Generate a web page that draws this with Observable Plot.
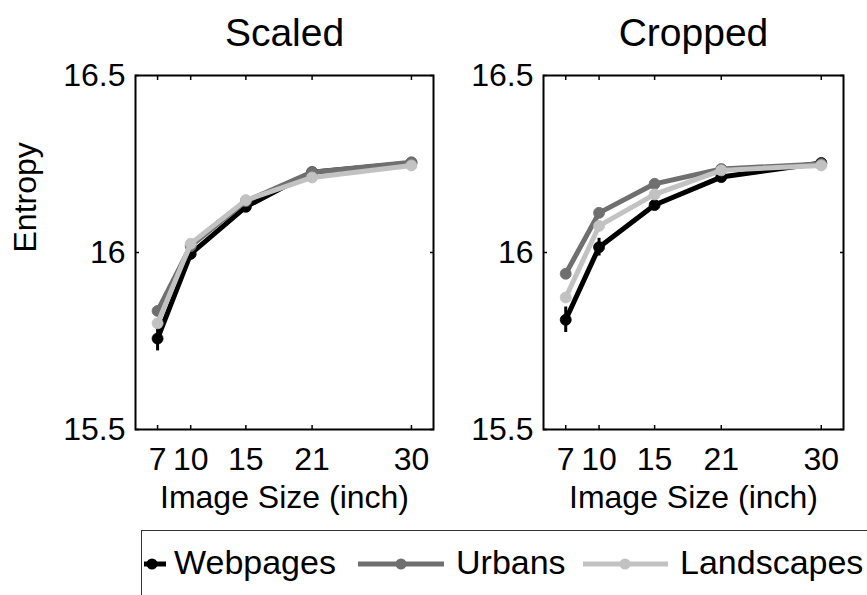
<!DOCTYPE html>
<html><head><meta charset="utf-8">
<script src="https://cdn.jsdelivr.net/npm/d3@7"></script>
<script src="https://cdn.jsdelivr.net/npm/@observablehq/plot@0.6"></script>
<style>
html,body{margin:0;padding:0;background:#fff;}
#root{position:relative;width:867px;height:595px;overflow:hidden;font-family:"Liberation Sans",Arial,Helvetica,sans-serif;color:#000;}
.panel{position:absolute;top:0;}
#legend{position:absolute;left:141px;top:530px;width:800px;height:100px;border:1.5px solid #333;box-sizing:border-box;overflow:hidden;}
.lg-item{position:absolute;top:0;height:70px;}
.lg-text{position:absolute;font-size:34px;line-height:34px;white-space:nowrap;}
</style></head><body><div id="root"></div>
<script>
const sizes = [7, 10, 15, 21, 30];
const seriesNames = ["Webpages", "Urbans", "Landscapes"];
const seriesColors = ["#000000", "#6f6f6f", "#c2c2c2"];
const panelTitles = ["Scaled", "Cropped"];
const yTicks = [15.5, 16, 16.5];
const xLabel = "Image Size (inch)";
const yLabel = "Entropy";

const scaledWebpages   = [15.757, 15.996, 16.129, 16.227, 16.253];
const scaledUrbans     = [15.835, 16.018, 16.145, 16.227, 16.255];
const scaledLandscapes = [15.800, 16.025, 16.148, 16.212, 16.246];
const croppedWebpages   = [15.810, 16.015, 16.134, 16.213, 16.253];
const croppedUrbans     = [15.940, 16.112, 16.194, 16.236, 16.250];
const croppedLandscapes = [15.873, 16.075, 16.164, 16.232, 16.246];

const scaledErrWebpages   = [0.035, 0.012, 0.008, 0.006, 0.005];
const scaledErrUrbans     = [0.012, 0.008, 0.006, 0.005, 0.004];
const scaledErrLandscapes = [0.012, 0.008, 0.006, 0.005, 0.004];
const croppedErrWebpages   = [0.036, 0.025, 0.010, 0.007, 0.005];
const croppedErrUrbans     = [0.012, 0.008, 0.006, 0.005, 0.004];
const croppedErrLandscapes = [0.014, 0.010, 0.006, 0.005, 0.004];

const FONT = "Liberation Sans, Arial, Helvetica, sans-serif";

function makePanel(title, values, errs, geom, showYLabel) {
  const marks = [
    Plot.frame({stroke: "#000", strokeWidth: 2}),
    Plot.axisX(sizes, {anchor: "bottom", tickSize: -4, fill: "none", strokeWidth: 1.5, label: null}),
    Plot.axisX(sizes, {anchor: "top", tickSize: -4, fill: "none", strokeWidth: 1.5, label: null}),
    Plot.axisY(yTicks, {anchor: "left", tickSize: -4, fill: "none", strokeWidth: 1.5, label: null}),
    Plot.axisY(yTicks, {anchor: "right", tickSize: -4, fill: "none", strokeWidth: 1.5, label: null}),
    Plot.axisX(sizes, {anchor: "bottom", tickSize: 0, tickPadding: 18, fontSize: 32, label: null}),
    Plot.axisY(yTicks, {anchor: "left", tickSize: 0, tickPadding: 10, fontSize: 32, tickFormat: d => String(d), label: null})
  ];
  seriesNames.forEach((s, i) => {
    const rows = sizes.map((x, j) => ({size: x, value: values[i][j], err: errs[i][j]}));
    marks.push(
      Plot.ruleX(rows, {x: "size", y1: d => d.value - d.err, y2: d => d.value + d.err, stroke: seriesColors[i], strokeWidth: 3}),
      Plot.line(rows, {x: "size", y: "value", stroke: seriesColors[i], strokeWidth: 5, strokeLinejoin: "round"}),
      Plot.dot(rows, {x: "size", y: "value", r: 5.5, fill: seriesColors[i], stroke: seriesColors[i], strokeWidth: 0.8})
    );
  });
  marks.push(
    Plot.text([title], {text: d => d, frameAnchor: "top", dy: -30, lineAnchor: "bottom", fontSize: 39}),
    Plot.text([xLabel], {text: d => d, frameAnchor: "bottom", dy: 78, lineAnchor: "bottom", fontSize: 32})
  );
  if (showYLabel) {
    marks.push(Plot.text([yLabel], {text: d => d, frameAnchor: "left", rotate: -90, dx: -110, lineAnchor: "middle", fontSize: 32}));
  }
  return Plot.plot({
    width: geom.width,
    height: 520,
    marginLeft: geom.ml,
    marginRight: geom.mr,
    marginTop: 75,
    marginBottom: 91,
    style: {fontFamily: FONT, background: "transparent", overflow: "visible", color: "#000"},
    x: {domain: [5, 32]},
    y: {domain: [15.5, 16.5]},
    marks
  });
}

const root = document.getElementById("root");
const p1 = makePanel(panelTitles[0], [scaledWebpages, scaledUrbans, scaledLandscapes], [scaledErrWebpages, scaledErrUrbans, scaledErrLandscapes], {width: 440, ml: 135, mr: 7}, true);
p1.classList.add("panel"); p1.style.left = "0px";
root.appendChild(p1);
const p2 = makePanel(panelTitles[1], [croppedWebpages, croppedUrbans, croppedLandscapes], [croppedErrWebpages, croppedErrUrbans, croppedErrLandscapes], {width: 427, ml: 103, mr: 24}, false);
p2.classList.add("panel"); p2.style.left = "440px";
root.appendChild(p2);

// Legend (positions relative to legend box)
const legend = document.createElement("div");
legend.id = "legend";
root.appendChild(legend);
const swatches = [
  {x1: 2, x2: 24, dot: 10, text: 32},
  {x1: 216, x2: 302, dot: 259, text: 314},
  {x1: 441, x2: 526, dot: 483, text: 538}
];
seriesNames.forEach((s, i) => {
  const sw = swatches[i];
  const svg = d3.create("svg").attr("width", 800).attr("height", 70)
    .style("position", "absolute").style("left", "0px").style("top", "0px");
  svg.append("line").attr("x1", sw.x1).attr("x2", sw.x2).attr("y1", 33).attr("y2", 33)
    .attr("stroke", seriesColors[i]).attr("stroke-width", 5);
  svg.append("circle").attr("cx", sw.dot).attr("cy", 33).attr("r", 5.5).attr("fill", seriesColors[i]);
  legend.appendChild(svg.node());
  const t = document.createElement("div");
  t.className = "lg-text";
  t.textContent = s;
  t.style.left = sw.text + "px";
  t.style.top = "14px";
  legend.appendChild(t);
});
</script></body></html>
